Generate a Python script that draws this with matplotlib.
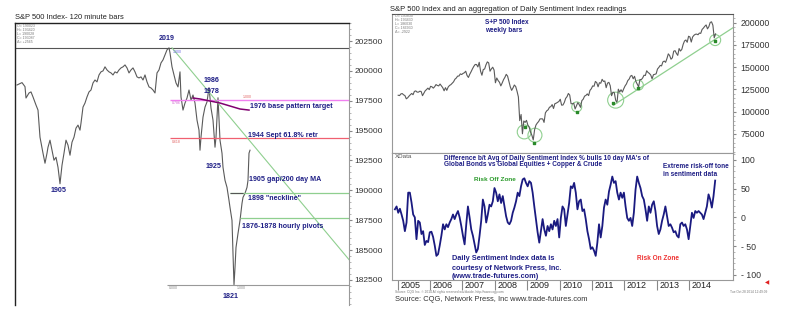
import numpy as np
import matplotlib.pyplot as plt
from matplotlib.ticker import MultipleLocator

plt.rcParams['font.family'] = ['Liberation Sans', 'DejaVu Sans']

W, H = 790, 326
NAVY = '#1f1f86'

# ---- left panel: S&P 500, 120 minute bars (index points) ----
bar_pos = [2, 7, 10, 11, 14, 16, 18, 21, 23, 25,
           28, 30, 32, 33, 35, 37, 39, 41, 43, 45,
           47, 49, 51, 53, 55, 57, 59, 61, 63, 65,
           66, 68, 70, 72, 74, 76, 78, 80, 82, 84,
           86, 88, 90, 92, 94, 96, 98, 100, 102, 104,
           106, 108, 110, 112, 114, 116, 118, 120, 122, 124,
           126, 128, 130, 132, 134, 136, 138, 140, 142, 144,
           146, 148, 150, 152, 154, 155, 157, 159, 161, 163,
           165, 166, 168, 170, 172, 174, 176, 178, 180, 182,
           184, 185, 186, 188, 190, 192, 194, 196, 198, 200,
           201, 203, 205, 207, 208, 210, 212, 214, 215, 217,
           218, 219, 220, 221, 223, 225, 227, 228, 230, 232,
           233, 234, 235]
bar_close = [1988.2, 1990.2, 1986.8, 1977.3, 1981.5, 1982.4, 1978.2, 1971.4, 1967.2, 1944.5,
             1931.1, 1922.7, 1931.1, 1936.1, 1942.0, 1933.6, 1925.2, 1927.7, 1919.3, 1905.5,
             1921.0, 1931.1, 1942.0, 1937.8, 1929.4, 1940.3, 1944.5, 1952.1, 1954.6, 1950.4,
             1956.3, 1969.7, 1973.1, 1978.2, 1982.4, 1984.0, 1989.9, 1992.4, 1990.8, 1996.6,
             1999.2, 2000.0, 2003.4, 2000.8, 1999.2, 1998.3, 1996.6, 1999.2, 1998.3, 2000.8,
             2002.5, 2003.4, 2005.0, 2002.5, 1998.3, 2000.8, 2002.5, 1999.2, 1995.0, 1994.1,
             1995.0, 1992.4, 1996.6, 1990.8, 1986.6, 1985.7, 1984.0, 1981.5, 1998.3, 2000.8,
             2006.7, 2009.2, 2013.4, 2017.6, 2019.3, 2015.1, 2003.4, 1996.6, 1989.9, 1986.6,
             1999.2, 1978.2, 1967.2, 1973.1, 1977.3, 1984.0, 1975.6, 1979.8, 1973.1, 1958.8,
             1950.4, 1933.6, 1944.5, 1961.3, 1969.7, 1974.0, 1986.0, 1968.9, 1958.8, 1936.1,
             1944.5, 1977.5, 1942.0, 1931.1, 1919.3, 1908.4, 1902.5, 1891.6, 1885.7, 1874.8,
             1847.1, 1821.0, 1835.3, 1852.1, 1863.9, 1874.8, 1889.1, 1894.1, 1897.5, 1902.5,
             1908.4, 1931.1, 1933.6]

peak_level = 2019.3
fib_786 = 1976.0
fib_618 = 1944.0
low_level = 1821.0
neckline = 1898.0
pivots = 1876.5
ma_bars = [178, 185, 195, 205, 215, 225, 234]
ma_vals = [1977.3, 1976.5, 1974.8, 1973.1, 1970.6, 1968.1, 1967.2]
diag_bars = [157, 334]
diag_vals = [2019.3, 1842.0]

# ---- right top: S&P 500 weekly (half-monthly readings from 2005) ----
spx = [1185, 1181, 1200, 1204, 1190, 1181, 1145, 1156, 1175, 1191, 1205, 1191,
       1228, 1234, 1220, 1220, 1230, 1228, 1180, 1207, 1235, 1249, 1265, 1248,
       1285, 1280, 1265, 1281, 1305, 1295, 1290, 1311, 1290, 1270, 1235, 1270,
       1240, 1277, 1295, 1304, 1320, 1336, 1365, 1378, 1400, 1401, 1425, 1418,
       1430, 1438, 1455, 1407, 1385, 1421, 1450, 1482, 1510, 1531, 1530, 1503,
       1555, 1455, 1410, 1474, 1480, 1527, 1560, 1549, 1455, 1481, 1500, 1468,
       1325, 1379, 1350, 1331, 1290, 1323, 1360, 1386, 1420, 1400, 1340, 1280,
       1240, 1267, 1300, 1283, 1230, 1166, 900, 969, 752, 896, 880, 903,
       850, 826, 770, 735, 683, 798, 850, 873, 890, 919, 920, 919,
       880, 987, 1010, 1021, 1050, 1057, 1080, 1036, 1090, 1096, 1105, 1115,
       1140, 1074, 1075, 1104, 1150, 1169, 1205, 1187, 1090, 1089, 1095, 1031,
       1065, 1102, 1080, 1049, 1125, 1141, 1175, 1183, 1200, 1181, 1240, 1258,
       1290, 1286, 1340, 1327, 1280, 1326, 1320, 1364, 1340, 1345, 1270, 1321,
       1330, 1292, 1180, 1219, 1215, 1131, 1099, 1253, 1220, 1247, 1220, 1258,
       1290, 1312, 1350, 1366, 1400, 1408, 1370, 1398, 1340, 1310, 1280, 1362,
       1360, 1379, 1410, 1407, 1460, 1441, 1430, 1412, 1370, 1416, 1420, 1426,
       1480, 1498, 1520, 1515, 1560, 1569, 1555, 1598, 1650, 1631, 1590, 1606,
       1680, 1686, 1655, 1633, 1710, 1682, 1700, 1757, 1795, 1806, 1780, 1848,
       1840, 1783, 1840, 1859, 1870, 1872, 1865, 1884, 1880, 1924, 1940, 1960,
       1975, 1931, 1955, 2003, 2010, 1972, 1830, 1875]
spx_start = 2005.0

low_circle_x = [2008.91, 2009.24, 2010.53, 2011.73, 2012.43, 2014.80]
low_circle_y = [773, 736, 1054, 1130, 1298, 1805]
low_circle_r = [7, 7, 5, 8, 5, 5.5]
low_dot_x = [2008.93, 2009.22, 2010.53, 2011.66, 2012.43, 2014.80]
low_dot_y = [829, 649, 998, 1093, 1261, 1797]
trend_x = [2011.66, 2015.36]
trend_y = [1073, 1946]

# ---- right bottom: sentiment differential ----
sentiment = [14, 19, 8, 15, 5, -6, -24, -9, 43, 43, 26, 5, 0, -38, -6, -9, -29, -24,
             -48, -41, -43, -26, -25, -34, -49, -67, -64, -49, -32, -12, -21, -12, -17,
             -9, -3, 5, -3, 5, 11, 0, -15, -32, -47, -12, 19, 0, -21, -32, -47, -61, -55,
             -32, -6, 31, 19, -9, 5, 22, 19, 28, 51, 43, 28, 40, 25, 37, 19, 2, -9, -12,
             -6, 8, 17, 28, 43, 37, 54, 66, 68, 60, 54, 63, 60, 43, 19, -3, -26, -44, -24,
             -3, -21, -32, -15, -24, -12, -21, -6, -15, -3, -35, -1, 19,
             14, -15, 5, 25, 54, 51, 60, 43, 14, 28, 31, 11, 14, -3, -24, -38, -55, -52,
             -58, -67, -44, -12, -35, -15, 17, 31, 22, 45, 57, 71, 60, 63, 43, 31, 43, 34,
             43, 19, -1, -6, -1, -15, 8, 48, 71, 60, 51, 37, 31, 14, -6, 19, 8, 22, 28, 11,
             -15, -29, -21, -6, 5, 19, 2, -15, -12, -18, -26, -24, -32, -35, -12, -9, -15,
             -12, -21, -38, -15, 8, -1, 11, 8, 11, 8, 5, -3, 8, 19, 40, 31, 17, 37, 64]
sent_start, sent_end = 2004.92, 2014.80
years = list(range(2005, 2015))


def fx(x):
    return x / W


def fy(y):
    return 1 - y / H


def px_text(x, y, s, **kw):
    fig.text(fx(x), fy(y), s, **kw)


fig = plt.figure(figsize=(7.9, 3.26), dpi=100)
fig.patch.set_facecolor('white')

# ================= left panel =================
ax1 = fig.add_axes([fx(15), fy(305), fx(349 - 15), (305 - 23) / H])
ax1.plot(bar_pos, np.array(bar_close) * 100, color='#5a5a5a', lw=0.8)
ax1.set_xlim(0, 334)
ax1.set_ylim(180400, 204010)
ax1.axhline(peak_level * 100, color='#555555', lw=0.8)
ax1.hlines(fib_786 * 100, 155, 334, color='#f080f0', lw=1.0)
ax1.hlines(fib_618 * 100, 155, 334, color='#f06070', lw=0.9)
ax1.hlines(low_level * 100, 152, 334, color='#999999', lw=0.8)
ax1.hlines(neckline * 100, 215, 334, color='#8fcf8f', lw=0.9)
ax1.hlines(pivots * 100, 225, 334, color='#8fcf8f', lw=0.9)
ax1.plot(diag_bars, np.array(diag_vals) * 100, color='#8fcf8f', lw=0.8)
ax1.plot(ma_bars, np.array(ma_vals) * 100, color='#800070', lw=1.1)
ax1.hlines(neckline * 100, 215, 228, color='#555555', lw=0.8)

ax1.yaxis.tick_right()
ax1.set_yticks(np.arange(182500, 202501, 2500))
ax1.yaxis.set_minor_locator(MultipleLocator(500))
ax1.tick_params(axis='y', which='major', labelsize=6, colors='#888888', labelcolor='#333333',
                length=2, pad=2)
ax1.tick_params(axis='y', which='minor', length=1.5, colors='#aaaaaa')
ax1.set_xticks([])
for s in ['left', 'top']:
    ax1.spines[s].set_color('#222222')
    ax1.spines[s].set_linewidth(1.0)
ax1.spines['right'].set_color('#999999')
ax1.spines['bottom'].set_visible(False)

# tiny fib tags
for lvl, col, b, t, va in [(peak_level, '#6060e0', 158, '1.000', 'top'),
                           (fib_786, '#d060d0', 157, '0.786', 'top'),
                           (fib_618, '#e06060', 157, '0.618', 'top'),
                           (low_level, '#888888', 154, '0.000', 'top'),
                           (low_level, '#888888', 222, '1.000', 'top'),
                           (fib_786, '#e06060', 228, '1.000', 'bottom')]:
    off = -150 if va == 'top' else 60
    ax1.text(b, lvl * 100 + off, t, fontsize=2.5, color=col, va=va)
for i, t in enumerate(['O= 190023', 'H= 193420', 'L= 190028', 'C= 193087', '\u0394= +2565']):
    px_text(17, 26 + i * 4, t, fontsize=2.6, color='#777777', va='center')

px_text(15, 17.5, 'S&P 500 Index- 120 minute bars', fontsize=5.4, color='#222222', va='center')

ann = dict(fontweight='bold', color=NAVY, fontsize=5.1, va='center')
px_text(167, 38, '2019', ha='center', **ann)
px_text(212, 80, '1986', ha='center', **ann)
px_text(212, 92, '1978', ha='center', **ann)
px_text(250, 107, '1976 base pattern target', ha='left', **ann)
px_text(248, 135, '1944 Sept 61.8% retr', ha='left', **ann)
px_text(214, 167, '1925', ha='center', **ann)
px_text(249, 179, '1905 gap/200 day MA', ha='left', **ann)
px_text(248, 198, '1898 "neckline"', ha='left', **ann)
px_text(242, 227, '1876-1878 hourly pivots', ha='left', **ann)
px_text(231, 296, '1821', ha='center', **ann)
px_text(59, 191, '1905', ha='center', **ann)

# ================= right top panel =================
xl = (2004.83, 2015.35)
ax2 = fig.add_axes([fx(392), fy(153), fx(733 - 392), (153 - 14) / H])
xs = spx_start + np.arange(len(spx)) / 24 + 1 / 48
ax2.plot(xs, np.array(spx) * 100, color='#5a5a5a', lw=0.8)
ax2.plot(trend_x, np.array(trend_y) * 100, color='#8fcf8f', lw=0.9)
for cx, cy, r in zip(low_circle_x, low_circle_y, low_circle_r):
    d = 2 * r * 72 / 100
    ax2.scatter([cx], [cy * 100], s=d ** 2, facecolors='none', edgecolors='#8fcf8f', lw=0.8)
ax2.scatter(low_dot_x, np.array(low_dot_y) * 100, s=3, marker='s', color='#2a8a2a', zorder=3)
ax2.set_xlim(*xl)
ax2.set_ylim(53600, 209800)
ax2.yaxis.tick_right()
ax2.set_yticks(np.arange(75000, 200001, 25000))
ax2.yaxis.set_minor_locator(MultipleLocator(5000))
ax2.tick_params(axis='y', which='major', labelsize=6.3, colors='#888888', labelcolor='#333333',
                length=2, pad=3.5)
ax2.tick_params(axis='y', which='minor', length=1.5, colors='#aaaaaa')
ax2.set_xticks([])
for s in ax2.spines.values():
    s.set_color('#999999')
    s.set_linewidth(0.8)
ax2.spines['top'].set_color('#555555')

for i, t in enumerate(['O= 193830', 'H= 193430', 'L= 186030', 'C= 186930', '\u0394= -2922']):
    px_text(395, 16 + i * 4, t, fontsize=2.6, color='#777777', va='center')

px_text(390, 9.5, 'S&P 500 Index and an aggregation of Daily Sentiment Index readings',
        fontsize=5.5, color='#222222', va='center')
rt = dict(fontweight='bold', color=NAVY, fontsize=4.7, va='center', ha='left')
px_text(485, 23, 'S+P 500 Index', **rt)
px_text(485, 31, 'weekly bars', **rt)

# ================= right bottom panel =================
ax3 = fig.add_axes([fx(392), fy(280), fx(733 - 392), (280 - 153) / H])
xsent = np.linspace(sent_start, sent_end, len(sentiment))
ax3.plot(xsent, sentiment, color='#1a1a80', lw=1.3)
ax3.set_xlim(*xl)
ax3.set_ylim(-109, 112)
ax3.yaxis.tick_right()
ax3.set_yticks([100, 50, 0, -50, -100])
ax3.set_yticklabels(['100', '50', '0', '- 50', '- 100'])
ax3.yaxis.set_minor_locator(MultipleLocator(10))
ax3.tick_params(axis='y', which='major', labelsize=6.3, colors='#888888', labelcolor='#333333',
                length=2, pad=3.5)
ax3.tick_params(axis='y', which='minor', length=1.5, colors='#aaaaaa')
ax3.set_xticks(years)
ax3.set_xticklabels([])
ax3.tick_params(axis='x', length=7, direction='out', colors='#888888', width=0.8)
for s in ax3.spines.values():
    s.set_color('#999999')
    s.set_linewidth(0.8)
for yr in years:
    ax3.text(yr + 0.08, -0.04, str(yr), transform=ax3.get_xaxis_transform(),
             fontsize=6.5, color='#222222', va='center', ha='left')

px_text(395, 157, 'XData', fontsize=4.5, color='#555555', va='center')
st = dict(fontweight='bold', color=NAVY, fontsize=4.7, va='center', ha='left')
px_text(444, 158, "Difference b/t Avg of Daily Sentiment Index % bulls 10 day MA's of", **st)
px_text(444, 165, 'Global Bonds vs Global Equities + Copper & Crude', **st)
px_text(663, 167, 'Extreme risk-off tone', **st)
px_text(663, 175, 'in sentiment data', **st)
px_text(474, 179, 'Risk Off Zone', fontweight='bold', color='#2a9a2a', fontsize=4.6, va='center')
px_text(637, 259, 'Risk On Zone', fontweight='bold', color='#ee3333', fontsize=4.7, va='center')
dt = dict(fontweight='bold', color=NAVY, fontsize=5.3, va='center', ha='left')
px_text(452, 259, 'Daily Sentiment Index data is', **dt)
px_text(452, 268, 'courtesy of Network Press, Inc.', **dt)
px_text(452, 276, '(www.trade-futures.com)', **dt)

px_text(395, 299.5, 'Source: CQG, Network Press, Inc www.trade-futures.com',
        fontsize=5.45, color='#333333', va='center')
px_text(730, 292, 'Tue Oct 28 2014 12:49:09', fontsize=2.3, color='#777777', va='center')
px_text(395, 292, 'Source: CQG Inc. \u00a9 2014 All rights reserved worldwide. http://www.cqg.com',
        fontsize=2.3, color='#777777', va='center')
px_text(767, 283, '\u25c0', fontsize=4, color='#e02020', va='center', ha='center')

fig.savefig('out.png', dpi=100)
